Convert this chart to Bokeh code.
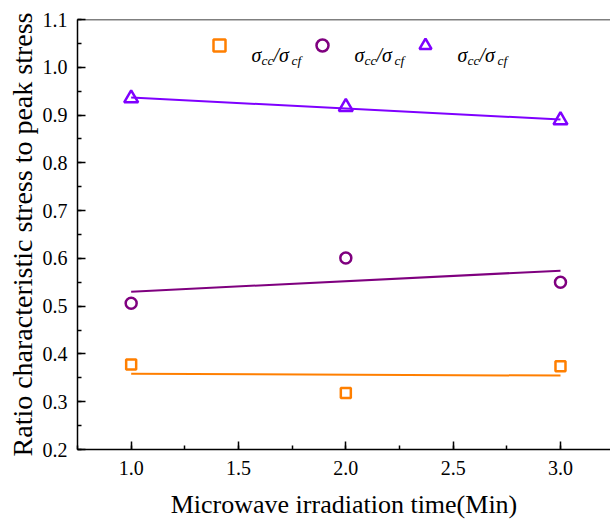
import numpy as np
from bokeh.plotting import figure
from bokeh.models import (Range1d, SingleIntervalTicker, PrintfTickFormatter, Span,
                          Legend, LegendItem, Label)
from bokeh.embed import file_html
from bokeh.resources import INLINE

# ---- data ----
time_min = [1.0, 2.0, 3.0]
ratio_square = [0.378, 0.318, 0.374]
ratio_circle = [0.506, 0.601, 0.550]
ratio_triangle = [0.935, 0.917, 0.889]
series_colors = ["#FF7F00", "#7F007F", "#7F00FF"]
series_markers = ["square", "circle", "triangle"]
series_sizes = [10, 11, 14]
x_ticks_interval = 0.5
y_ticks_interval = 0.1
x_title = "Microwave irradiation time(Min)"
y_title = "Ratio characteristic stress to peak stress"

FONT = "Liberation Serif"

p = figure(width=610, height=523, output_backend="svg", toolbar_location=None,
           x_range=Range1d(0.75, 3.233), y_range=Range1d(0.2, 1.1),
           min_border_left=77, min_border_right=0, min_border_top=19, min_border_bottom=74)
p.outline_line_color = None
p.xgrid.visible = False
p.ygrid.visible = False
p.background_fill_color = "white"
p.border_fill_color = "white"

p.xaxis.ticker = SingleIntervalTicker(interval=x_ticks_interval, num_minor_ticks=2)
p.yaxis.ticker = SingleIntervalTicker(interval=y_ticks_interval, num_minor_ticks=2)
p.xaxis.formatter = PrintfTickFormatter(format="%.1f")
p.yaxis.formatter = PrintfTickFormatter(format="%.1f")

for ax in (p.xaxis[0], p.yaxis[0]):
    ax.axis_line_width = 1.5
    ax.axis_line_color = "black"
    ax.major_tick_in = 8
    ax.major_tick_out = 0
    ax.minor_tick_in = 4
    ax.minor_tick_out = 0
    ax.major_tick_line_width = 1.5
    ax.minor_tick_line_width = 1.5
    ax.major_tick_line_color = "black"
    ax.minor_tick_line_color = "black"
    ax.major_label_text_font = FONT
    ax.major_label_text_font_size = "20px"
    ax.major_label_text_color = "black"
    ax.axis_label_text_font = FONT
    ax.axis_label_text_font_style = "normal"
    ax.axis_label_text_color = "black"

p.xaxis.axis_label = x_title
p.yaxis.axis_label = y_title
p.xaxis.axis_label_text_font_size = "26px"
p.yaxis.axis_label_text_font_size = "28px"
p.xaxis.major_label_standoff = 11
p.yaxis.major_label_standoff = 10
p.xaxis.axis_label_standoff = 12
p.yaxis.axis_label_standoff = 2

p.add_layout(Span(location=1.1, dimension="width", line_color="black", line_width=1.5))

series = [ratio_square, ratio_circle, ratio_triangle]
xs = np.array(time_min)
marker_renderers = []
for ys, c, m, s in zip(series, series_colors, series_markers, series_sizes):
    k, b = np.polyfit(xs, np.array(ys), 1)
    p.line([xs[0], xs[-1]], [k * xs[0] + b, k * xs[-1] + b], line_color=c, line_width=2)
    r = p.scatter(time_min, ys, marker=m, size=s, line_color=c, line_width=2.5, fill_color=None)
    marker_renderers.append(r)

legend = Legend(items=[LegendItem(label=" ", renderers=[r]) for r in marker_renderers],
                orientation="horizontal", location=(127, 389),
                glyph_width=30, glyph_height=30, label_height=30, label_width=73,
                label_standoff=0, spacing=0, padding=0, margin=0,
                border_line_alpha=0, background_fill_alpha=0,
                label_text_font_size="10px")
p.add_layout(legend)

for i in range(3):
    dx = 103 * i
    parts = [("σ", 174, 395, "20px"), ("cc", 184, 389, "13.5px"),
             ("/σ", 196, 395, "20px"), ("cf", 214, 389, "13.5px")]
    for t, x, y, fs in parts:
        p.add_layout(Label(x=x + dx, y=y, x_units="screen", y_units="screen", text=t,
                           text_font=FONT, text_font_style="italic", text_font_size=fs,
                           text_color="black", text_baseline="alphabetic"))

open("out.html", "w").write(file_html(p, INLINE))
